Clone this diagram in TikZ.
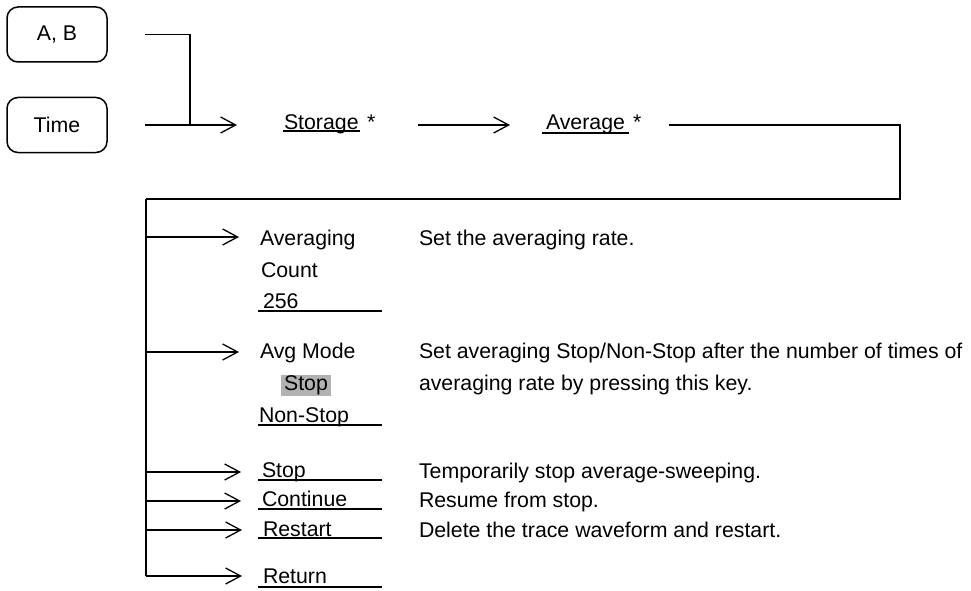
\documentclass[tikz,border=0pt]{standalone}
\usepackage{fontspec}
\setmainfont{Liberation Sans}
\usetikzlibrary{arrows.meta}
\begin{document}
\begin{tikzpicture}[x=1pt,y=-1pt,
  every node/.style={inner sep=0pt,outer sep=0pt,font=\fontsize{21.3}{25}\selectfont},
  keybox/.style={draw,line width=1.5pt,rounded corners=11pt,minimum width=100pt,minimum height=55pt},
  conn/.style={line width=1.3pt},
  arr/.style={conn,-{Straight Barb[length=15pt,width=16pt,line width=1.3pt]}},
  txt/.style={anchor=base west},
  uline/.style={line width=1.2pt},
  shadebox/.style={fill=black!30,inner xsep=3pt,text height=15.5pt,text depth=6pt,anchor=base}]
\useasboundingbox (0,0) rectangle (971,591);
% input keys
\node[keybox] (ab) at (57,34.5) {A, B};
\node[keybox] (time) at (57,125) {Time};
% menu chain
\node[txt] (storage) at (284,129) {Storage};
\node[txt] (storstar) at (367,129) {*};
\node[txt] (avg) at (546,129) {Average};
\node[txt] (avgstar) at (633,129) {*};
\draw[uline] (283,131) -- (360,131);
\draw[uline] (542,133) -- (629,133);
\coordinate (join) at (190,125);
\coordinate (corner) at (900,125);
\coordinate (busTop) at (146,199);
\draw[conn] ([xshift=38pt]ab.east) -| (join);
\draw[arr] ([xshift=38pt]time.east) -- ([shift={(-47,-4)}]storage.base west);
\draw[arr] ([shift={(43,-4)}]storstar.base east) -- ([shift={(-36,-4)}]avg.base west);
\draw[conn] ([shift={(28,-4)}]avgstar.base east) -- (corner) |- (busTop);
% submenu labels
\node[txt] (avgcnt) at (260,245) {Averaging};
\node[txt] (count) at (261,277) {Count};
\node[txt] (n256) at (263,308) {256};
\draw[uline] (258,311) -- (382,311);
\node[txt] (avgmode) at (260,358) {Avg Mode};
\node[shadebox] (modestop) at (306,390) {Stop};
\node[txt] (nonstop) at (259,422) {Non-Stop};
\draw[uline] (258,425) -- (382,425);
\node[txt] (stop) at (262,477) {Stop};
\draw[uline] (258,480) -- (382,480);
\node[txt] (cont) at (262,506) {Continue};
\draw[uline] (258,509) -- (382,509);
\node[txt] (restart) at (263,536) {Restart};
\draw[uline] (258,538) -- (382,538);
\node[txt] (ret) at (263,583) {Return};
\draw[uline] (258,587) -- (382,587);
% bus and branches
\coordinate (busBot) at (146,576);
\draw[conn] (busTop) -- (busBot);
\foreach \nm/\yy in {avgcnt/237,avgmode/352,stop/472,cont/501,restart/530,ret/576}{
  \draw[arr] (146,\yy) -- ([xshift=-21pt]\nm.west |- 0,\yy);
}
% descriptions
\node[txt] (d1) at (419,245) {Set the averaging rate.};
\node[txt] (d2) at (419,358) {Set averaging Stop/Non-Stop after the number of times of};
\node[txt] (d2b) at (419,390) {averaging rate by pressing this key.};
\node[txt] (d3) at (419,478) {Temporarily stop average-sweeping.};
\node[txt] (d4) at (419,507) {Resume from stop.};
\node[txt] (d5) at (419,537) {Delete the trace waveform and restart.};
\end{tikzpicture}
\end{document}
